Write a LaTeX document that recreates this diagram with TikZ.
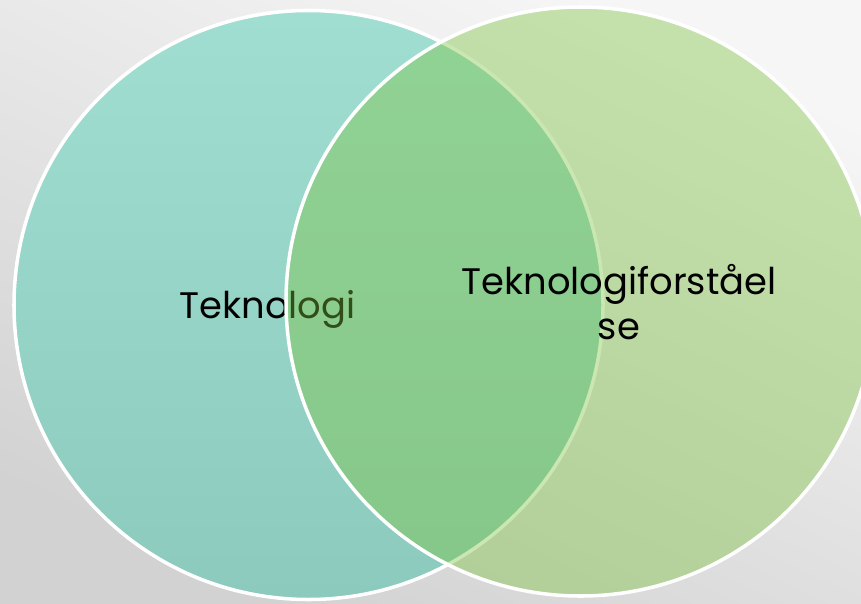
\documentclass[tikz,border=0pt]{standalone}
\usepackage{fontspec}
\setmainfont{Poppins}
\definecolor{bgtop}{HTML}{F6F6F6}
\definecolor{bgbot}{HTML}{D2D2D2}
\definecolor{tealtop}{HTML}{A0DED1}
\definecolor{tealbot}{HTML}{8BCABD}
\definecolor{leaf}{HTML}{7DC33C}
\tikzset{
  venn/.style={circle, draw=white, line width=1pt, minimum size=5.89cm, inner sep=0pt},
  lbl/.style={font=\fontsize{10.5}{12.8}\selectfont, align=center, text=black}
}
\begin{document}
\begin{tikzpicture}
% Background
\shade[top color=bgtop, bottom color=bgbot, shading angle=-25] (0,0) rectangle (8.61,6.03);
\useasboundingbox (0,0) rectangle (8.61,6.03);
% Left set
\node[venn, top color=tealtop, bottom color=tealbot] (tek) at (3.085,2.98) {};
\node[lbl] (tektxt) at (2.675,2.94) {Teknologi};
% Right set, see-through
\node[venn, fill=leaf, fill opacity=0.4] (forst) at (5.805,3.015) {};
\node[lbl] (forsttxt) at (6.19,3.01) {Teknologiforståel\\se};
\end{tikzpicture}
\end{document}
